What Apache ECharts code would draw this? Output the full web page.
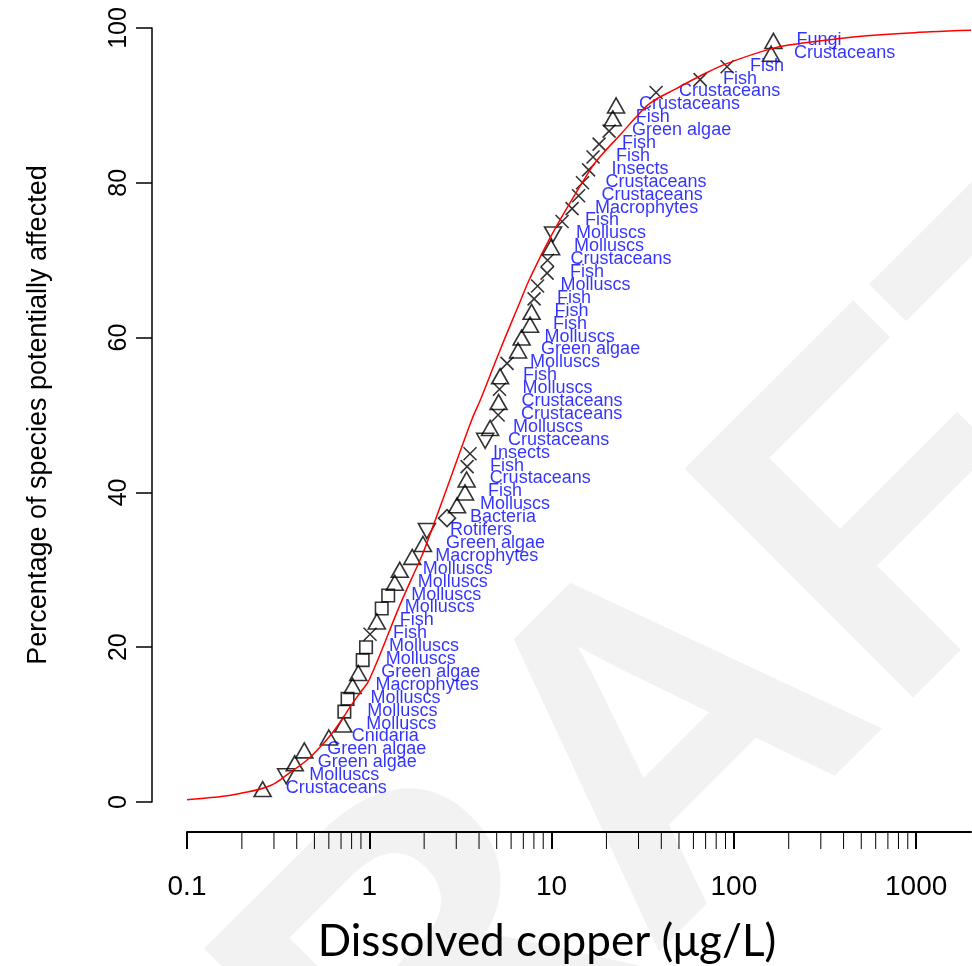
<!DOCTYPE html>
<html>
<head>
    <meta charset="utf-8">
    <title>Copper SSD</title>
    <script src="https://cdn.jsdelivr.net/npm/echarts@6/dist/echarts.min.js"></script>
    <style>
        html, body, #main {
            width: 100%;
            height: 100%;
            margin: 0;
            background: #fff;
        }
    </style>
</head>
<body>
    <div id="main"></div>
    <script type="text/javascript">
        // toxicity values (ug/L), ranked low to high
        var conc = [0.26, 0.35, 0.39, 0.44, 0.60, 0.72, 0.73, 0.76, 0.81, 0.87,
                    0.92, 0.96, 1.01, 1.10, 1.17, 1.27, 1.38, 1.47, 1.72, 1.97,
                    2.07, 2.67, 3.03, 3.35, 3.42, 3.44, 3.57, 4.32, 4.60, 5.09,
                    5.12, 5.18, 5.22, 5.70, 6.55, 6.85, 7.62, 7.77, 8.02, 8.38,
                    9.45, 9.50, 9.94, 10.19, 11.42, 12.96, 14.07, 14.79, 15.96, 16.89,
                    18.23, 20.68, 21.67, 22.59, 37.45, 65.3, 91.8, 160.1, 164.8];
        // percentage of species (plotting positions)
        var pct = [1.67, 3.33, 5.00, 6.67, 8.33, 10.00, 11.67, 13.33, 15.00, 16.67,
                   18.33, 20.00, 21.67, 23.33, 25.00, 26.67, 28.33, 30.00, 31.67, 33.33,
                   35.00, 36.67, 38.33, 40.00, 41.67, 43.33, 45.00, 46.67, 48.33, 50.00,
                   51.67, 53.33, 55.00, 56.67, 58.33, 60.00, 61.67, 63.33, 65.00, 66.67,
                   68.33, 70.00, 71.67, 73.33, 75.00, 76.67, 78.33, 80.00, 81.67, 83.33,
                   85.00, 86.67, 88.33, 90.00, 91.67, 93.33, 95.00, 96.67, 98.33];
        var groups = ['Crustaceans', 'Molluscs', 'Green algae', 'Green algae', 'Cnidaria', 'Molluscs', 'Molluscs', 'Molluscs', 'Macrophytes', 'Green algae',
                      'Molluscs', 'Molluscs', 'Fish', 'Fish', 'Molluscs', 'Molluscs', 'Molluscs', 'Molluscs', 'Macrophytes', 'Green algae',
                      'Rotifers', 'Bacteria', 'Molluscs', 'Fish', 'Crustaceans', 'Fish', 'Insects', 'Crustaceans', 'Molluscs', 'Crustaceans',
                      'Crustaceans', 'Molluscs', 'Fish', 'Molluscs', 'Green algae', 'Molluscs', 'Fish', 'Fish', 'Fish', 'Molluscs',
                      'Fish', 'Crustaceans', 'Molluscs', 'Molluscs', 'Fish', 'Macrophytes', 'Crustaceans', 'Crustaceans', 'Insects', 'Fish',
                      'Fish', 'Green algae', 'Fish', 'Crustaceans', 'Crustaceans', 'Fish', 'Fish', 'Crustaceans', 'Fungi'];
        // point style: tri = triangle, tdn = inverted triangle, sq = square, dia = diamond, x = cross
        var marks = ['tri', 'tdn', 'tri', 'tri', 'tri', 'tri', 'sq', 'sq', 'tri', 'tri',
                     'sq', 'sq', 'x', 'tri', 'sq', 'sq', 'tri', 'tri', 'tri', 'tri',
                     'tdn', 'dia', 'tri', 'tri', 'tri', 'x', 'x', 'tdn', 'tri', 'x',
                     'tri', 'x', 'tri', 'x', 'tri', 'tri', 'tri', 'tri', 'x', 'x',
                     'x', 'x', 'tri', 'tdn', 'x', 'x', 'x', 'x', 'x', 'x',
                     'x', 'x', 'tri', 'tri', 'x', 'x', 'x', 'tri', 'tri'];

        // fitted distribution
        var curveX = [0.1, 0.141, 0.195, 0.285, 0.367, 0.454, 0.537, 0.611, 0.692, 0.785,
                      0.889, 1.0, 1.476, 1.9, 2.02, 2.7, 3.65, 4.06, 5.22, 6.71,
                      7.62, 10.3, 16.3, 18.5, 23.8, 29.1, 34.7, 48.6, 65.3, 91.4,
                      165, 231, 537, 1194, 2000];
        var curveY = [0.3, 0.6, 1.1, 2.1, 3.8, 5.4, 7.1, 8.6, 10.3, 12.3,
                      14.1, 15.8, 25.5, 31.3, 32.8, 40.9, 49.4, 51.9, 58.4, 64.6,
                      67.7, 73.8, 81.7, 83.4, 86.2, 88.5, 90.3, 92.2, 93.8, 95.4,
                      97.4, 98.0, 99.0, 99.5, 99.7];

        var xTicks = [0.1, 1, 10, 100, 1000];
        var minorTicks = [0.2, 0.3, 0.4, 0.5, 0.6, 0.7, 0.8, 0.9,
                          2, 3, 4, 5, 6, 7, 8, 9,
                          20, 30, 40, 50, 60, 70, 80, 90,
                          200, 300, 400, 500, 600, 700, 800, 900];

        var symbolOf = {
            tri: { symbol: 'triangle', symbolSize: [17, 15] },
            tdn: { symbol: 'triangle', symbolSize: [17, 15], symbolRotate: 180 },
            sq:  { symbol: 'rect', symbolSize: 12.5 },
            dia: { symbol: 'diamond', symbolSize: [17, 17] },
            x:   { symbol: 'path://M0,0L10,10M10,0L0,10', symbolSize: 13 }
        };

        var points = conc.map(function (c, i) {
            var s = symbolOf[marks[i]];
            return {
                value: [c, pct[i]],
                name: groups[i],
                symbol: s.symbol,
                symbolSize: s.symbolSize,
                symbolRotate: s.symbolRotate || 0
            };
        });
        var curve = curveX.map(function (c, i) { return [c, curveY[i]]; });
        var axisOffset = 30;

        var myChart = echarts.init(document.getElementById('main'));
        var option = {
            animation: false,
            backgroundColor: '#fff',
            textStyle: { fontFamily: 'Liberation Sans, Arial, sans-serif' },
            graphic: [{
                type: 'text',
                z: -10,
                silent: true,
                x: 245,
                y: 1514,
                rotation: 0.785,
                style: {
                    text: 'DRAFT',
                    font: 'bold 470px Liberation Sans',
                    fill: '#f2f2f2',
                    textAlign: 'left',
                    textVerticalAlign: 'bottom'
                }
            }],
            grid: {
                left: 187, right: 1, top: 28, bottom: 164,
                containLabel: false,
                outerBoundsMode: 'none'
            },
            xAxis: {
                type: 'log',
                logBase: 10,
                min: 0.1,
                max: 2000,
                offset: axisOffset,
                name: 'Dissolved copper (\u03bcg/L)',
                nameLocation: 'middle',
                nameGap: 88,
                nameTextStyle: {
                    fontFamily: 'Lato, Noto Sans, sans-serif',
                    fontSize: 44,
                    color: '#000',
                    padding: [0, 64, 0, 0]
                },
                axisLine: { show: true, onZero: false, lineStyle: { color: '#000', width: 2 } },
                axisTick: { show: true, length: 17, lineStyle: { color: '#000', width: 2 } },
                axisLabel: {
                    color: '#000',
                    fontSize: 28,
                    margin: 41,
                    showMaxLabel: false,
                    formatter: function (v) {
                        return xTicks.indexOf(+v) >= 0 ? String(v) : '';
                    }
                },
                splitLine: { show: false }
            },
            yAxis: {
                type: 'value',
                min: 0,
                max: 100,
                interval: 20,
                offset: 35,
                name: 'Percentage of species potentially affected',
                nameLocation: 'middle',
                nameRotate: 90,
                nameGap: 100,
                nameTextStyle: { fontSize: 27, color: '#000' },
                axisLine: { show: true, onZero: false, lineStyle: { color: '#000', width: 1.5 } },
                axisTick: { show: true, length: 16, lineStyle: { color: '#000', width: 1.5 } },
                axisLabel: { color: '#000', fontSize: 25, rotate: 90, margin: 20 },
                splitLine: { show: false }
            },
            series: [{
                type: 'scatter',
                z: 3,
                data: points,
                itemStyle: { color: 'rgba(0,0,0,0)', borderColor: '#000', borderWidth: 1.6 },
                emphasis: { disabled: true },
                label: {
                    show: true,
                    position: 'inside',
                    align: 'left',
                    verticalAlign: 'middle',
                    offset: [23, -1],
                    formatter: '{b}',
                    color: '#0000ff',
                    fontSize: 18,
                    fontFamily: 'Liberation Sans, Arial, sans-serif'
                }
            }, {
                type: 'line',
                z: 4,
                data: curve,
                smooth: 0.4,
                showSymbol: false,
                lineStyle: { color: '#ff0000', width: 1.5 },
                emphasis: { disabled: true }
            }, {
                // minor log ticks on the offset x axis
                type: 'custom',
                clip: false,
                silent: true,
                data: minorTicks,
                encode: { x: 0 },
                renderItem: function (params, api) {
                    var p = api.coord([api.value(0), 0]);
                    var y0 = p[1] + axisOffset;
                    return {
                        type: 'line',
                        shape: { x1: p[0], y1: y0, x2: p[0], y2: y0 + 17 },
                        style: { stroke: '#000', lineWidth: 1 }
                    };
                }
            }]
        };
        if (option && typeof option === "object") {
            myChart.setOption(option, true);
        }
    </script>
</body>
</html>
